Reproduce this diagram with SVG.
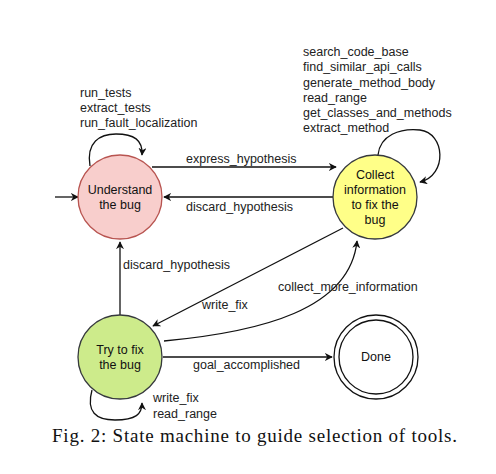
<svg xmlns="http://www.w3.org/2000/svg" width="496" height="474" viewBox="0 0 496 474">
<style>
.lbl{font-family:"Liberation Sans",Arial,sans-serif;font-size:12.5px;fill:#222}
.nl{font-family:"Liberation Sans",Arial,sans-serif;font-size:12.5px;fill:#111;text-anchor:middle}
.e{fill:none;stroke:#111;stroke-width:1.3}
.cap{font-family:"Liberation Serif","Times New Roman",serif;font-size:19px;fill:#111}
</style>
<defs>
<marker id="a" viewBox="0 0 10 10" refX="9" refY="5" markerWidth="8" markerHeight="8" markerUnits="userSpaceOnUse" orient="auto"><path d="M0,0 L10,5 L0,10 L3,5 Z" fill="#111"/></marker>
</defs>
<rect width="496" height="474" fill="#fff"/>
<g id="connectors">
<path class="e" d="M55,197 L78,197" marker-end="url(#a)"/>
<path class="e" d="M90,166 C86,142 100,134 116,134 C134,134 143,140 142,155" marker-end="url(#a)"/>
<path class="e" d="M152,167 L336,167" marker-end="url(#a)"/>
<path class="e" d="M333,197 L164,197" marker-end="url(#a)"/>
<path class="e" d="M378,155 C380,135 400,128 420,130 C445,133 448,175 420,182" marker-end="url(#a)"/>
<path class="e" d="M120,315 L120,242" marker-end="url(#a)"/>
<path class="e" d="M343,228 L153,326" marker-end="url(#a)"/>
<path class="e" d="M164,341 C260,332 350,310 357,241" marker-end="url(#a)"/>
<path class="e" d="M163,357 L332,357" marker-end="url(#a)"/>
<path class="e" d="M92,390 C86,412 96,420 115,420 C136,420 142,414 142,403" marker-end="url(#a)"/>
</g>
<g id="edge-labels">
<text class="lbl" x="80" y="97">run_tests</text>
<text class="lbl" x="80" y="112">extract_tests</text>
<text class="lbl" x="80" y="127">run_fault_localization</text>
<text class="lbl" x="186" y="163">express_hypothesis</text>
<text class="lbl" x="186" y="211">discard_hypothesis</text>
<text class="lbl" x="303" y="56">search_code_base</text>
<text class="lbl" x="303" y="71">find_similar_api_calls</text>
<text class="lbl" x="303" y="87">generate_method_body</text>
<text class="lbl" x="303" y="102">read_range</text>
<text class="lbl" x="303" y="117">get_classes_and_methods</text>
<text class="lbl" x="303" y="132">extract_method</text>
<text class="lbl" x="123" y="269">discard_hypothesis</text>
<text class="lbl" x="202" y="309">write_fix</text>
<text class="lbl" x="278" y="291">collect_more_information</text>
<text class="lbl" x="193" y="369">goal_accomplished</text>
<text class="lbl" x="153" y="402">write_fix</text>
<text class="lbl" x="153" y="418">read_range</text>
</g>
<g id="understand">
<circle cx="120" cy="197" r="42" fill="#f8cecc" stroke="#b85450" stroke-width="1.3"/>
<text class="nl" x="120" y="194">Understand</text>
<text class="nl" x="120" y="209">the bug</text>
</g>
<g id="collect">
<circle cx="375" cy="197" r="42" fill="#ffff88" stroke="#36393d" stroke-width="1.3"/>
<text class="nl" x="375" y="179">Collect</text>
<text class="nl" x="375" y="194">information</text>
<text class="nl" x="375" y="209">to fix the</text>
<text class="nl" x="375" y="224">bug</text>
</g>
<g id="tryfix">
<circle cx="120" cy="357" r="42" fill="#cdeb8b" stroke="#36393d" stroke-width="1.3"/>
<text class="nl" x="120" y="354">Try to fix</text>
<text class="nl" x="120" y="369">the bug</text>
</g>
<g id="done">
<circle cx="376" cy="357" r="42" fill="#fff" stroke="#111" stroke-width="1.3"/>
<circle cx="376" cy="357" r="37" fill="#fff" stroke="#111" stroke-width="1.3"/>
<text class="nl" x="376" y="361">Done</text>
</g>
<text class="cap" x="52" y="442" textLength="405" lengthAdjust="spacing">Fig. 2: State machine to guide selection of tools.</text>
</svg>
